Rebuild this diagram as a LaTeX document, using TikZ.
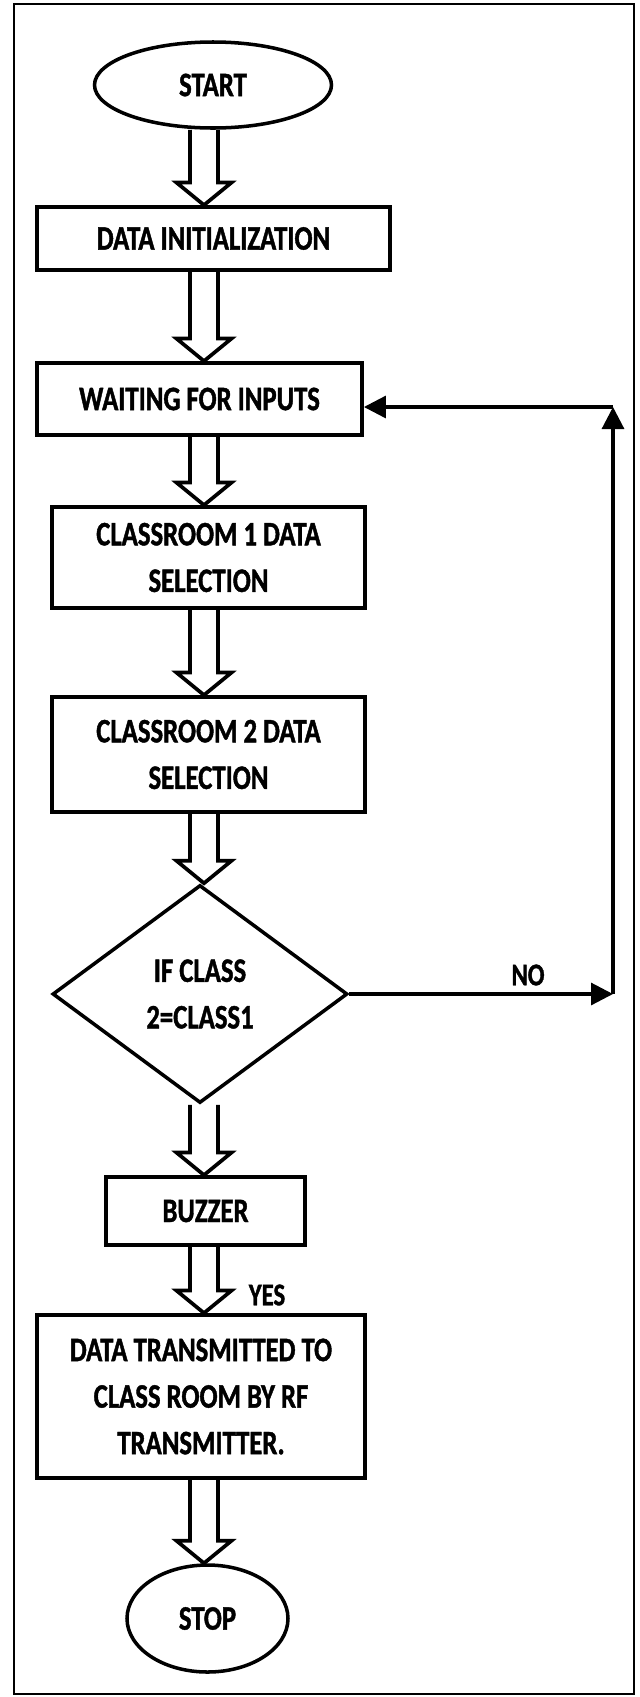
\documentclass[tikz,border=0pt]{standalone}
\usepackage{fontspec}
\setmainfont{Carlito}[FakeStretch=0.78, BoldFeatures={FakeBold=1.2}]
\usetikzlibrary{arrows.meta, shapes.geometric, calc}

\begin{document}
\begin{tikzpicture}[
  txt/.style={font=\bfseries\fontsize{19.5}{26.5}\selectfont, align=center, inner sep=0pt},
  terminal/.style={txt, ellipse, draw, line width=2pt},
  process/.style={txt, rectangle, draw, line width=2.2pt},
  decision/.style={txt, diamond, draw, line width=2pt, aspect=1.35},
  hollow/.style={line width=2.1pt, line join=miter, to path={
    let \p0=(axis), \p1=(\tikztostart.south), \p2=(\tikztotarget.north) in
    (\x0-0.28cm,\y1) -- (\x0-0.28cm,\y2+0.45cm) -- (\x0-0.55cm,\y2+0.45cm)
    -- (\x0,\y2) -- (\x0+0.55cm,\y2+0.45cm) -- (\x0+0.28cm,\y2+0.45cm)
    -- (\x0+0.28cm,\y1)}},
  back/.style={line width=1.8pt, -{Triangle[length=4.4mm, width=4.4mm]}},
  note/.style={font=\bfseries\fontsize{18}{22}\selectfont, inner sep=0pt},
  frame/.style={line width=1pt},
]

\useasboundingbox (0,0) rectangle (12.8,-33.94);
\draw[frame] (0.28,-0.08) rectangle (12.68,-33.88);

\coordinate (axis) at (4.08,0);

\node[terminal, minimum width=4.74cm, minimum height=1.72cm] (start) at (4.26,-1.70) {START};
\node[process, minimum width=7.06cm, minimum height=1.26cm] (init) at (4.27,-4.77) {DATA INITIALIZATION};
\node[process, minimum width=6.50cm, minimum height=1.44cm] (wait) at (3.99,-7.98) {WAITING FOR INPUTS};
\node[process, minimum width=6.26cm, minimum height=2.02cm] (room1) at (4.17,-11.15) {CLASSROOM 1 DATA\\SELECTION};
\node[process, minimum width=6.26cm, minimum height=2.30cm] (room2) at (4.17,-15.09) {CLASSROOM 2 DATA\\SELECTION};
\node[decision, minimum width=5.90cm, minimum height=4.36cm] (cond) at (4.00,-19.88) {IF CLASS\\2=CLASS1};
\node[process, minimum width=3.98cm, minimum height=1.36cm] (buzz) at (4.11,-24.22) {BUZZER};
\node[process, minimum width=6.56cm, minimum height=3.26cm] (send) at (4.02,-27.93) {DATA TRANSMITTED TO\\CLASS ROOM BY RF\\TRANSMITTER.};
\node[terminal, minimum width=3.22cm, minimum height=2.14cm] (stop) at (4.15,-32.37) {STOP};

\draw[hollow] (start) to (init);
\draw[hollow] (init) to (wait);
\draw[hollow] (wait) to (room1);
\draw[hollow] (room1) to (room2);
\draw[hollow] (room2) to (cond);
\draw[hollow] (cond) to (buzz);
\draw[hollow] (buzz) to (send);
\draw[hollow] (send) to (stop);

\coordinate (low) at (12.26,-19.88);
\coordinate (high) at (12.26,-8.14);
\draw[back] (cond.east) -- (low);
\draw[back] (low) -- (high);
\draw[back] (high) -- (high -| wait.east);

\node[note] (no) at (10.56,-19.50) {NO};
\node[note] (yes) at (5.34,-25.90) {YES};

\end{tikzpicture}
\end{document}
